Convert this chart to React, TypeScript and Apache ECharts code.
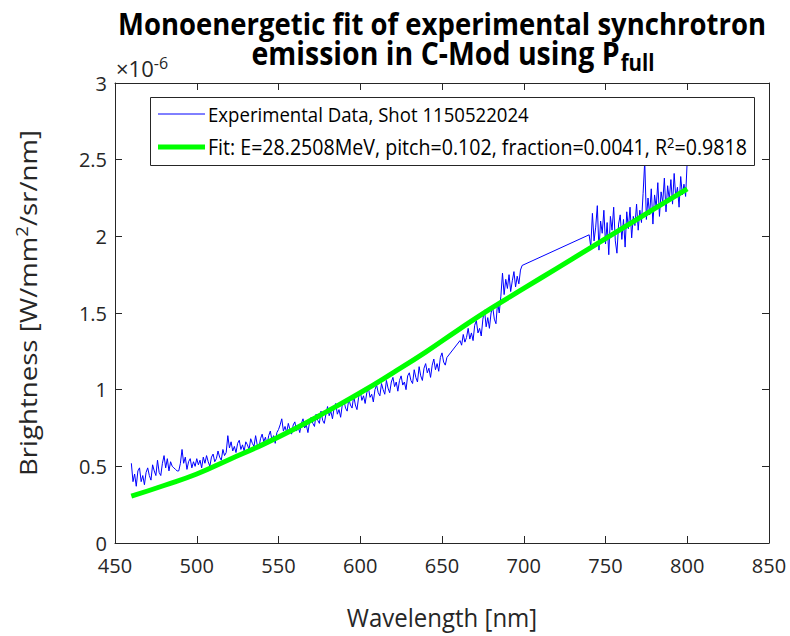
import React, { useEffect, useRef } from "react";
import * as echarts from "echarts";

const FONT = "'Open Sans', 'DejaVu Sans', sans-serif";
const INK = "#262626";

// ---- texts ----
const titleLine1 = "Monoenergetic fit of experimental synchrotron";
const titleLine2 = "emission in C-Mod using P";
const titleSub = "full";
const xAxisTitle = "Wavelength [nm]";
const yAxisTitleParts = ["Brightness [W/mm", "2", "/sr/nm]"];
const legendExpLabel = "Experimental Data, Shot 1150522024";
const legendFitParts = ["Fit: E=28.2508MeV, pitch=0.102, fraction=0.0041, R", "2", "=0.9818"];
const exponentParts = ["\u00d710", "-6"];

// ---- axes ----
const xMin = 450;
const xMax = 850;
const xStep = 50;
const yMin = 0;
const yMax = 3;
const yStep = 0.5;

// ---- fit curve (brightness in units of 1e-6 W/mm^2/sr/nm) ----
const fitWavelength = [460, 480, 500, 520, 540, 560, 580, 600, 620, 640, 660, 680, 700, 720, 740, 760, 780, 800];
const fitBrightness = [0.305, 0.375, 0.45, 0.545, 0.64, 0.745, 0.86, 0.98, 1.11, 1.245, 1.39, 1.53, 1.66, 1.79, 1.92, 2.05, 2.18, 2.31];

// ---- experimental data: wavelength (nm) and brightness (1e-6), segment by segment ----
const expWavelengthA = Array.from({ length: 194 }, (_, i) => 460 + i); // 460..653
const expBrightnessA = [
  0.52, 0.40, 0.45, 0.37, 0.47, 0.49, 0.40, 0.44, 0.38, 0.46,
  0.49, 0.44, 0.41, 0.51, 0.47, 0.44, 0.54, 0.46, 0.44, 0.52,
  0.57, 0.49, 0.55, 0.47, 0.53, 0.50, 0.49, 0.48, 0.47, 0.47,
  0.52, 0.61, 0.52, 0.56, 0.48, 0.53, 0.55, 0.49, 0.53, 0.50,
  0.55, 0.51, 0.54, 0.49, 0.56, 0.52, 0.57, 0.53, 0.50, 0.56,
  0.58, 0.53, 0.55, 0.60, 0.56, 0.54, 0.61, 0.57, 0.59, 0.70,
  0.62, 0.66, 0.60, 0.63, 0.59, 0.65, 0.67, 0.61, 0.64, 0.60,
  0.66, 0.64, 0.61, 0.68, 0.65, 0.63, 0.70, 0.64, 0.62, 0.68,
  0.71, 0.66, 0.69, 0.64, 0.70, 0.73, 0.67, 0.70, 0.65, 0.72,
  0.74, 0.77, 0.81, 0.73, 0.76, 0.72, 0.78, 0.74, 0.71, 0.77,
  0.79, 0.73, 0.76, 0.72, 0.78, 0.81, 0.75, 0.77, 0.72, 0.79,
  0.82, 0.78, 0.76, 0.84, 0.80, 0.78, 0.86, 0.80, 0.78, 0.84,
  0.89, 0.83, 0.86, 0.81, 0.88, 0.91, 0.84, 0.87, 0.82, 0.90,
  0.93, 0.88, 0.86, 0.94, 0.90, 0.88, 0.96, 0.90, 0.87, 0.95,
  0.99, 0.93, 0.96, 0.91, 0.98, 1.01, 0.95, 0.97, 0.92, 1.00,
  1.03, 0.98, 0.96, 1.04, 1.00, 0.97, 1.06, 1.01, 0.98, 1.05,
  1.08, 1.02, 1.05, 0.99, 1.06, 1.09, 1.03, 1.05, 1.00, 1.09,
  1.11, 1.06, 1.04, 1.13, 1.08, 1.05, 1.15, 1.09, 1.06, 1.14,
  1.17, 1.11, 1.14, 1.08, 1.16, 1.20, 1.13, 1.17, 1.12, 1.21,
  1.24, 1.18, 1.16, 1.21,
];
const expWavelengthB = Array.from({ length: 39 }, (_, i) => 661 + i); // 661..699
const expBrightnessB = [
  1.32, 1.29, 1.36, 1.31, 1.34, 1.40, 1.33, 1.37, 1.32, 1.42,
  1.45, 1.37, 1.40, 1.35, 1.46, 1.52, 1.41, 1.47, 1.40, 1.50,
  1.54, 1.46, 1.43, 1.57, 1.50, 1.61, 1.76, 1.62, 1.72, 1.66,
  1.75, 1.64, 1.71, 1.77, 1.67, 1.74, 1.69, 1.78, 1.81,
];
const expWavelengthC = Array.from({ length: 61 }, (_, i) => 740 + i); // 740..800
const expBrightnessC = [
  2.01, 1.93, 2.15, 1.97, 2.06, 2.20, 1.91, 2.10, 2.02, 2.17,
  1.95, 2.09, 1.88, 2.13, 2.04, 2.19, 1.97, 1.89, 2.08, 2.14,
  1.98, 2.11, 1.93, 2.16, 2.05, 2.19, 1.99, 2.13, 2.07, 2.21,
  2.04, 2.17, 2.09, 2.28, 2.49, 2.11, 2.25, 2.14, 2.31, 2.08,
  2.27, 2.19, 2.35, 2.13, 2.29, 2.22, 2.38, 2.16, 2.33, 2.24,
  2.37, 2.21, 2.41, 2.25, 2.32, 2.19, 2.39, 2.27, 2.34, 2.26,
  2.50,
];

const EXP_COLOR = "#0000ff";
const FIT_COLOR = "#00ff00";

function zip(xs: number[], ys: number[]) {
  return xs.map((x, i) => [x, ys[i]]);
}

function buildOption(): echarts.EChartsOption {
  const grid = { left: 115, top: 83, width: 654, height: 460 };
  const tickStyle = { color: INK, width: 1 };
  const axisCommon = {
    axisLine: { show: true, onZero: false, lineStyle: { color: INK, width: 1 } },
    axisTick: { show: true, inside: true, length: 7, lineStyle: tickStyle },
    splitLine: { show: false },
  };
  const labelStyle = { color: INK, fontSize: 20, fontFamily: FONT, lineHeight: 18 };
  const cx = grid.left + grid.width / 2;
  const cy = grid.top + grid.height / 2;

  const expData = [
    ...zip(expWavelengthA, expBrightnessA),
    ...zip(expWavelengthB, expBrightnessB),
    ...zip(expWavelengthC, expBrightnessC),
  ];

  return {
    animation: false,
    backgroundColor: "#ffffff",
    grid: { ...grid, containLabel: false },
    xAxis: [
      {
        type: "value", min: xMin, max: xMax, interval: xStep, position: "bottom",
        ...axisCommon,
        axisLabel: { ...labelStyle, margin: 13 },
      },
      {
        type: "value", min: xMin, max: xMax, interval: xStep, position: "top",
        ...axisCommon,
        axisLabel: { show: false },
      },
    ],
    yAxis: [
      {
        type: "value", min: yMin, max: yMax, interval: yStep, position: "left",
        ...axisCommon,
        axisLabel: { ...labelStyle, margin: 8, formatter: (v: number) => String(v) },
      },
      {
        type: "value", min: yMin, max: yMax, interval: yStep, position: "right",
        ...axisCommon,
        axisLabel: { show: false },
      },
    ],
    series: [
      {
        type: "line",
        name: legendExpLabel,
        data: expData,
        showSymbol: false,
        symbol: "none",
        lineStyle: { color: EXP_COLOR, width: 1 },
        z: 2,
      },
      {
        type: "line",
        name: "fit",
        data: zip(fitWavelength, fitBrightness),
        showSymbol: false,
        symbol: "none",
        smooth: true,
        lineStyle: { color: FIT_COLOR, width: 5 },
        z: 3,
      },
    ],
    graphic: [
      {
        type: "text", x: cx, y: 23, z: 100, scaleY: 1.12,
        style: {
          text: titleLine1, fill: "#000", fontSize: 27.5, fontWeight: "bold", fontFamily: FONT,
          align: "center", verticalAlign: "middle", textAlign: "center", textVerticalAlign: "middle",
        } as any,
      },
      {
        type: "text", x: cx + 11, y: 53, z: 100, scaleY: 1.12,
        style: {
          text: `{m|${titleLine2}}{s|${titleSub}}`, fill: "#000", fontFamily: FONT,
          align: "center", verticalAlign: "middle", textAlign: "center", textVerticalAlign: "middle",
          rich: {
            m: { fontSize: 28.5, fontWeight: "bold", fontFamily: FONT, fill: "#000", lineHeight: 32 },
            s: { fontSize: 20.5, fontWeight: "bold", fontFamily: FONT, fill: "#000", padding: [16, 0, 0, 1] },
          },
        } as any,
      },
      {
        type: "text", x: grid.left + 1, y: 81, z: 100,
        style: {
          text: `{m|${exponentParts[0]}}{s|${exponentParts[1]}}`, fill: INK, fontFamily: FONT,
          align: "left", verticalAlign: "bottom", textAlign: "left", textVerticalAlign: "bottom",
          rich: {
            m: { fontSize: 22, fontFamily: FONT, fill: INK, lineHeight: 26 },
            s: { fontSize: 16, fontFamily: FONT, fill: INK, lineHeight: 13, verticalAlign: "top" },
          },
        } as any,
      },
      {
        type: "text", x: cx, y: 617, z: 100, scaleY: 1.05,
        style: {
          text: xAxisTitle, fill: INK, fontSize: 24, fontFamily: FONT,
          align: "center", verticalAlign: "middle", textAlign: "center", textVerticalAlign: "middle",
        } as any,
      },
      {
        type: "text", x: 28, y: cy - 10, z: 100, rotation: Math.PI / 2, scaleX: 1.15,
        style: {
          text: `{m|${yAxisTitleParts[0]}}{s|${yAxisTitleParts[1]}}{m|${yAxisTitleParts[2]}}`,
          fill: INK, fontFamily: FONT,
          align: "center", verticalAlign: "middle", textAlign: "center", textVerticalAlign: "middle",
          rich: {
            m: { fontSize: 24, fontFamily: FONT, fill: INK, lineHeight: 28 },
            s: { fontSize: 16, fontFamily: FONT, fill: INK, lineHeight: 14, verticalAlign: "top" },
          },
        } as any,
      },
      {
        type: "rect", z: 100,
        shape: { x: 150.5, y: 97.5, width: 604, height: 68 },
        style: { fill: "#ffffff", stroke: INK, lineWidth: 1 },
      },
      {
        type: "line", z: 101,
        shape: { x1: 158, y1: 114, x2: 205, y2: 114 },
        style: { stroke: EXP_COLOR, lineWidth: 1 },
      },
      {
        type: "text", x: 208, y: 114, z: 101, scaleY: 1.1,
        style: {
          text: legendExpLabel, fill: "#000", fontSize: 18.6, fontFamily: FONT,
          align: "left", verticalAlign: "middle", textAlign: "left", textVerticalAlign: "middle",
        } as any,
      },
      {
        type: "line", z: 101,
        shape: { x1: 158, y1: 147, x2: 205, y2: 147 },
        style: { stroke: FIT_COLOR, lineWidth: 5 },
      },
      {
        type: "text", x: 208, y: 147, z: 101, scaleY: 1.1,
        style: {
          text: `{m|${legendFitParts[0]}}{s|${legendFitParts[1]}}{m|${legendFitParts[2]}}`,
          fill: "#000", fontFamily: FONT,
          align: "left", verticalAlign: "middle", textAlign: "left", textVerticalAlign: "middle",
          rich: {
            m: { fontSize: 19.6, fontFamily: FONT, fill: "#000", lineHeight: 22 },
            s: { fontSize: 13, fontFamily: FONT, fill: "#000", lineHeight: 12, verticalAlign: "top" },
          },
        } as any,
      },
    ],
  } as echarts.EChartsOption;
}

export default function App() {
  const ref = useRef<HTMLDivElement>(null);
  useEffect(() => {
    if (!ref.current) return;
    const chart = echarts.init(ref.current, undefined, { renderer: "svg" });
    chart.setOption(buildOption());
    return () => chart.dispose();
  }, []);
  return (
    <div
      ref={ref}
      style={{ position: "fixed", left: 0, top: 0, width: 790, height: 636, background: "#fff" }}
    />
  );
}
